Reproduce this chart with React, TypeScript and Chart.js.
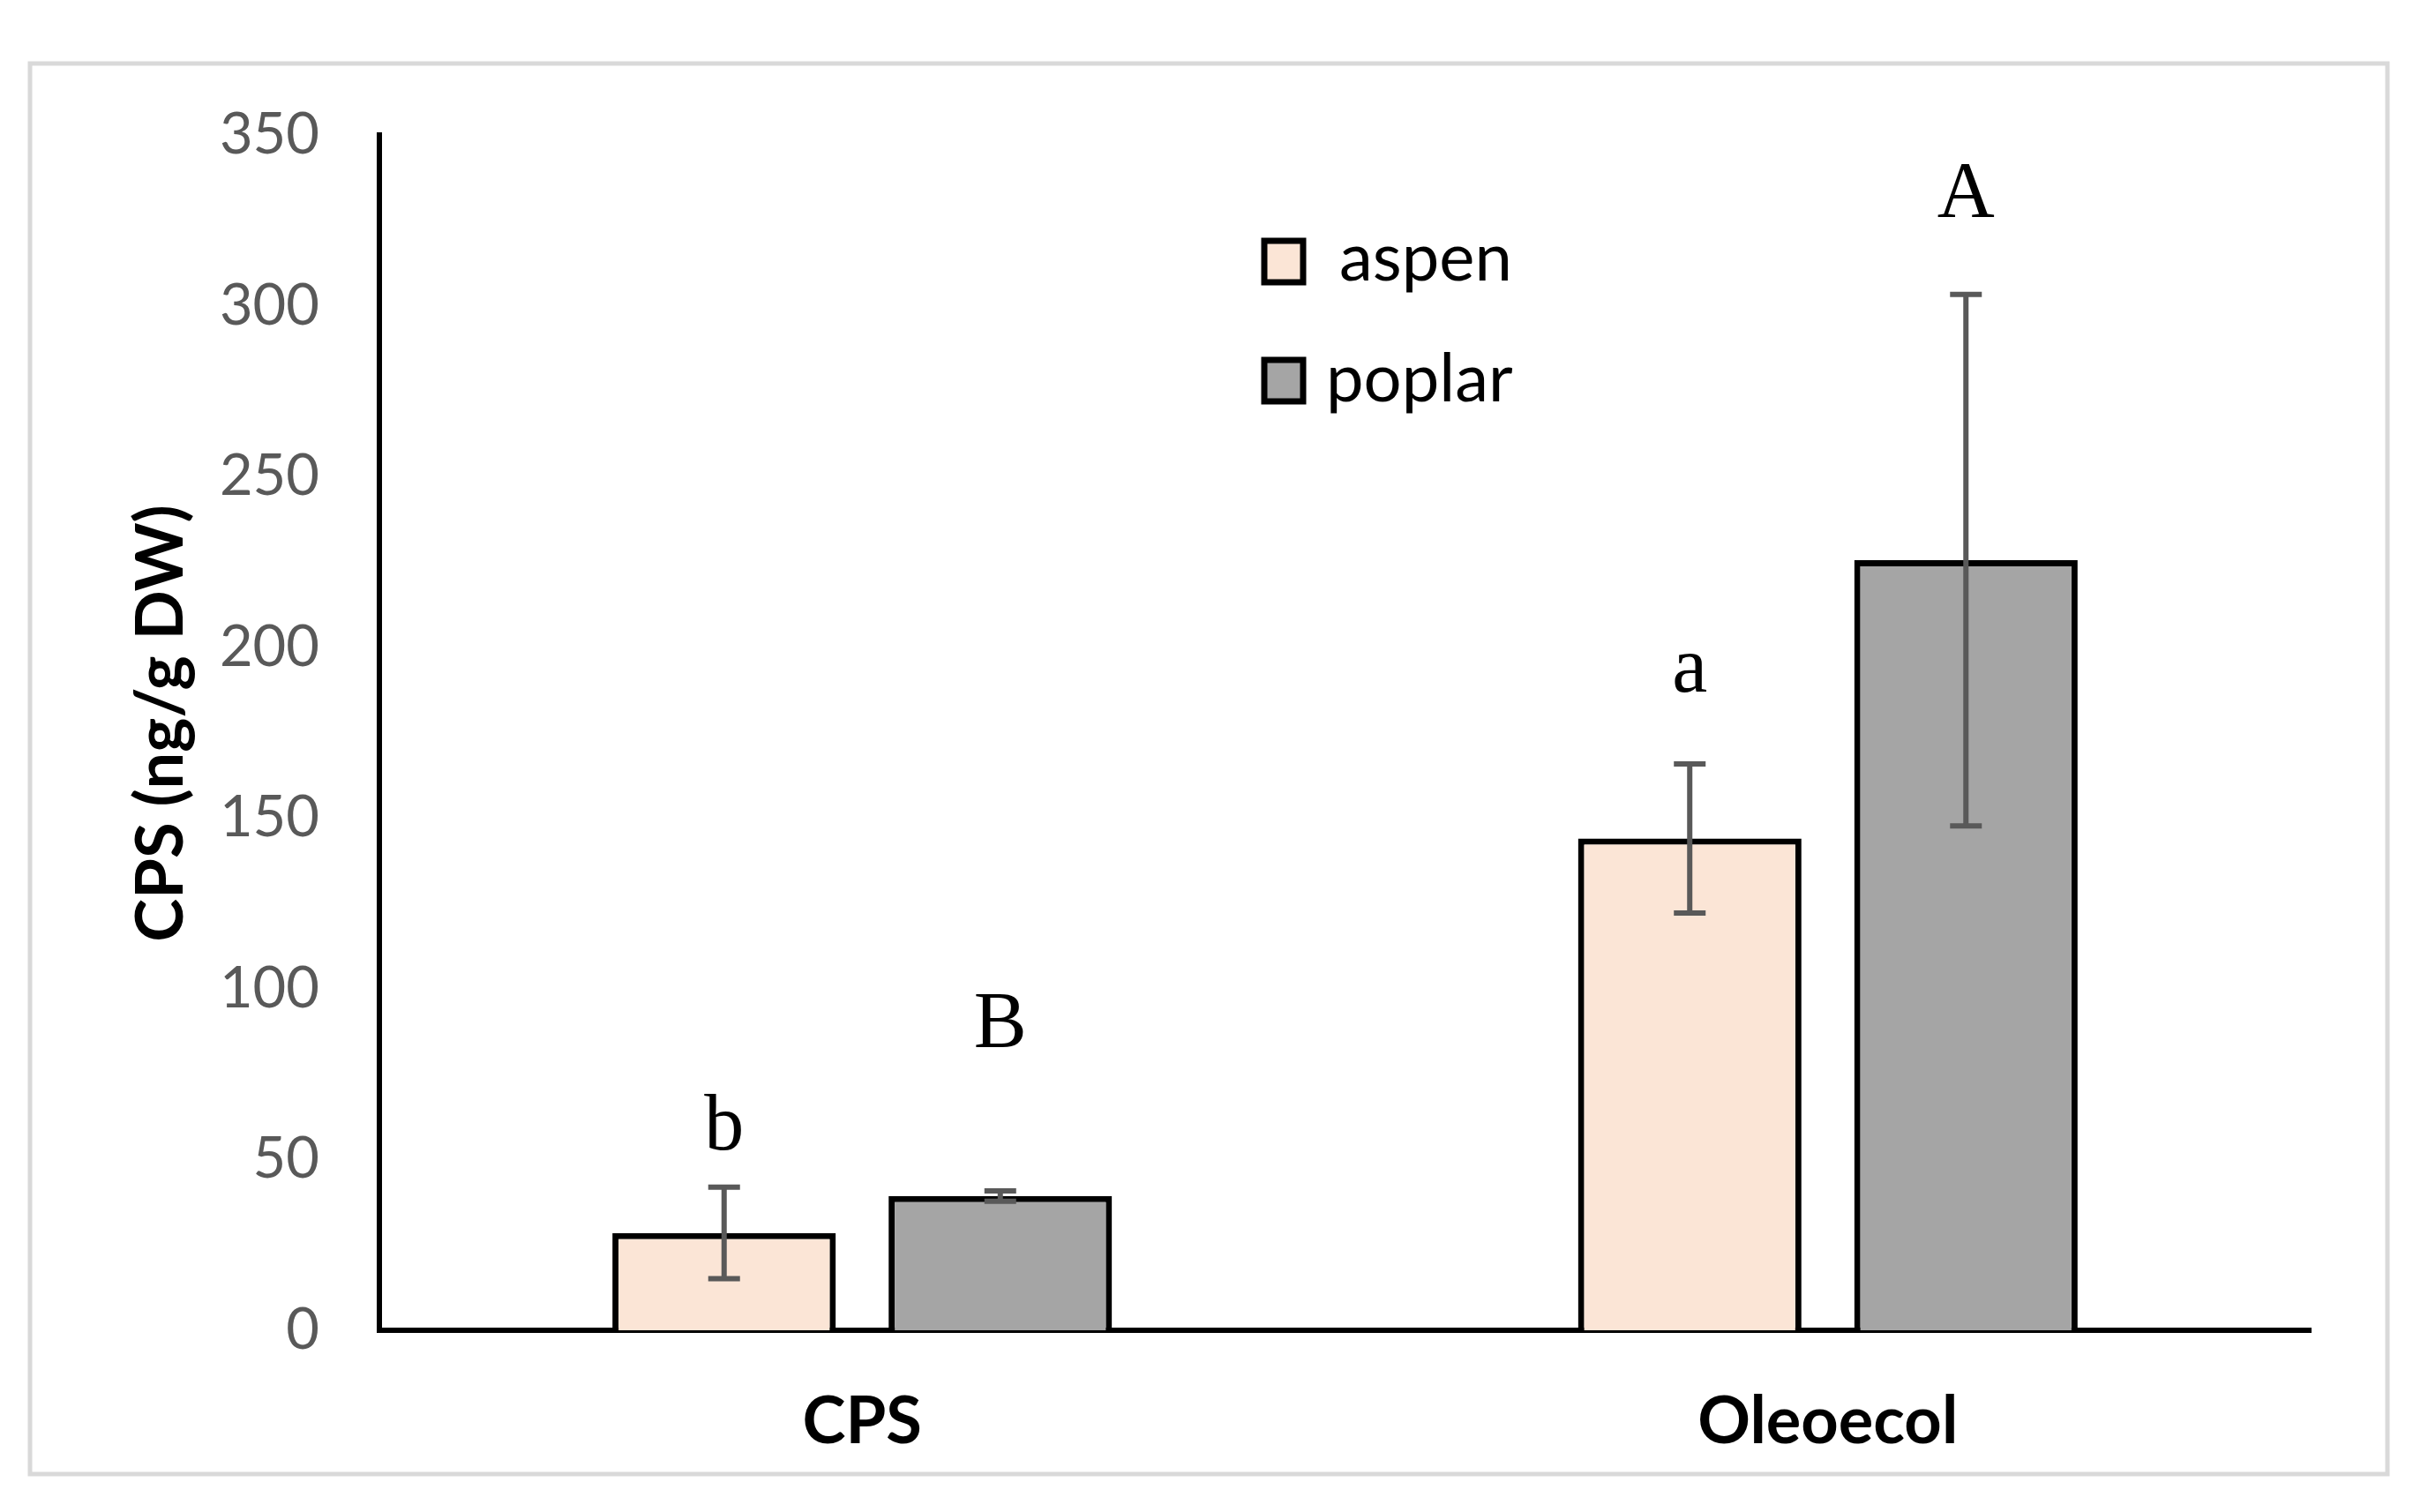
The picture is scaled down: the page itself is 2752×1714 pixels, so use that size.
import React, { useEffect, useRef } from "react";
import { Chart, registerables } from "chart.js";

Chart.register(...registerables);

const categories = ["CPS", "Oleoecol"];
const seriesNames = ["aspen", "poplar"];
const aspenValues = [28.5, 144.0];
const poplarValues = [39.3, 225.5];
const aspenErrors = [13.4, 21.8];
const poplarErrors = [1.5, 77.8];
const aspenLetters = ["b", "a"];
const poplarLetters = ["B", "A"];
const aspenLetterAt = [53, 187];
const poplarLetterAt = [83, 326];
const yTicks = [0, 50, 100, 150, 200, 250, 300, 350];
const yTitle = "CPS (ng/g DW)";

const W = 2752;
const H = 1714;
const SANS = "Lato, 'Open Sans', sans-serif";

const errors = [aspenErrors, poplarErrors];
const letters = [aspenLetters, poplarLetters];
const letterAt = [aspenLetterAt, poplarLetterAt];

const decorPlugin = {
  id: "decor",
  beforeDraw(chart: any) {
    const ctx = chart.ctx;
    ctx.save();
    ctx.fillStyle = "#ffffff";
    ctx.fillRect(0, 0, W, H);
    ctx.strokeStyle = "#D9D9D9";
    ctx.lineWidth = 5;
    ctx.strokeRect(34, 72, 2672, 1599);
    ctx.restore();
  },
  afterDatasetsDraw(chart: any) {
    const ctx = chart.ctx;
    const y = chart.scales.y;
    ctx.save();
    chart.data.datasets.forEach((ds: any, i: number) => {
      const meta = chart.getDatasetMeta(i);
      meta.data.forEach((bar: any, j: number) => {
        const v = ds.data[j];
        const e = errors[i][j];
        const x = bar.x;
        const yt = y.getPixelForValue(v + e);
        const yb = y.getPixelForValue(v - e);
        ctx.strokeStyle = "#595959";
        ctx.lineWidth = 6;
        ctx.beginPath();
        ctx.moveTo(x, yt);
        ctx.lineTo(x, yb);
        ctx.moveTo(x - 18, yt);
        ctx.lineTo(x + 18, yt);
        ctx.moveTo(x - 18, yb);
        ctx.lineTo(x + 18, yb);
        ctx.stroke();
        ctx.fillStyle = "#000000";
        ctx.font = "90px 'Liberation Serif', 'Times New Roman', serif";
        ctx.textAlign = "center";
        ctx.textBaseline = "alphabetic";
        ctx.fillText(letters[i][j], x, y.getPixelForValue(letterAt[i][j]));
      });
    });
    ctx.restore();
  },
  afterDraw(chart: any) {
    const ctx = chart.ctx;
    ctx.save();
    ctx.translate(207, 820);
    ctx.rotate(-Math.PI / 2);
    ctx.fillStyle = "#000000";
    ctx.font = `bold 74px ${SANS}`;
    ctx.textAlign = "center";
    ctx.textBaseline = "alphabetic";
    ctx.fillText(yTitle, 0, 0);
    ctx.restore();

    ctx.save();
    const boxes = [
      { top: 273, textX: 1518, base: 318 },
      { top: 408, textX: 1503, base: 455 },
    ];
    chart.data.datasets.forEach((ds: any, i: number) => {
      const b = boxes[i];
      ctx.fillStyle = ds.backgroundColor;
      ctx.fillRect(1433, b.top, 44, 47);
      ctx.strokeStyle = "#000000";
      ctx.lineWidth = 7;
      ctx.strokeRect(1433, b.top, 44, 47);
      ctx.fillStyle = "#000000";
      ctx.font = `76px ${SANS}`;
      ctx.textAlign = "left";
      ctx.textBaseline = "alphabetic";
      ctx.fillText(ds.label, b.textX, b.base);
    });
    ctx.restore();
  },
};

export default function App() {
  const ref = useRef<HTMLCanvasElement | null>(null);

  useEffect(() => {
    if (!ref.current) return;
    const chart = new Chart(ref.current, {
      type: "bar",
      data: {
        labels: categories,
        datasets: [
          {
            label: seriesNames[0],
            data: aspenValues,
            backgroundColor: "#FBE5D6",
            borderColor: "#000000",
            borderWidth: 7,
            categoryPercentage: 0.572,
            barPercentage: 0.809,
          },
          {
            label: seriesNames[1],
            data: poplarValues,
            backgroundColor: "#A5A5A5",
            borderColor: "#000000",
            borderWidth: 7,
            categoryPercentage: 0.572,
            barPercentage: 0.809,
          },
        ],
      },
      options: {
        responsive: false,
        animation: false,
        devicePixelRatio: 1,
        layout: { padding: { left: 0, top: 153, right: 133, bottom: 0 } },
        plugins: {
          legend: { display: false },
          tooltip: { enabled: false },
          title: { display: false },
        },
        scales: {
          x: {
            grid: { display: false, drawTicks: false },
            border: { display: true, color: "#000000", width: 6 },
            ticks: {
              color: "#000000",
              font: { family: SANS, size: 74, weight: "bold" },
              padding: 60,
            },
            afterFit(scale: any) {
              scale.height = H - 1508;
            },
          },
          y: {
            min: 0,
            max: 350,
            grid: { display: false, drawTicks: false },
            border: { display: true, color: "#000000", width: 6 },
            afterBuildTicks(scale: any) {
              scale.ticks = yTicks.map((v) => ({ value: v }));
            },
            ticks: {
              color: "#595959",
              font: { family: SANS, size: 65 },
              padding: 68,
            },
            afterFit(scale: any) {
              scale.width = 430;
            },
          },
        },
      },
      plugins: [decorPlugin],
    });
    return () => chart.destroy();
  }, []);

  return (
    <div style={{ position: "fixed", left: 0, top: 0, width: W, height: H }}>
      <canvas ref={ref} width={W} height={H} style={{ width: W, height: H, display: "block" }} />
    </div>
  );
}
